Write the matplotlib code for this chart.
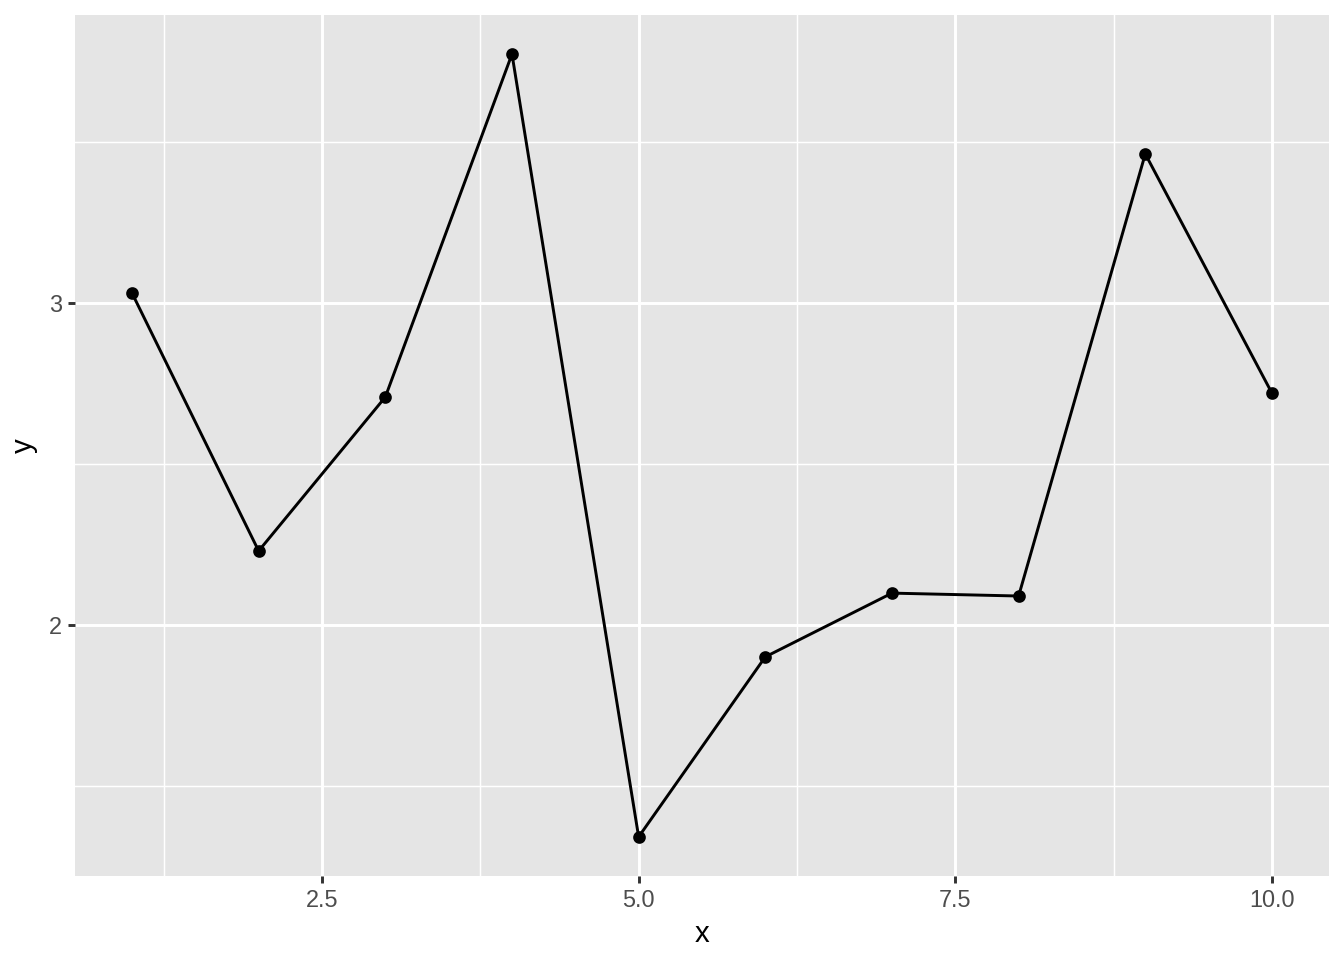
import matplotlib
matplotlib.use("Agg")
import matplotlib.pyplot as plt
from matplotlib.ticker import FixedLocator

plt.rcParams["font.family"] = ["Liberation Sans", "DejaVu Sans"]

x = [1, 2, 3, 4, 5, 6, 7, 8, 9, 10]
y = [3.031, 2.230, 2.708, 3.773, 1.342, 1.901, 2.099, 2.090, 3.463, 2.720]

x_major = [2.5, 5.0, 7.5, 10.0]
x_minor = [1.25, 3.75, 6.25, 8.75]
y_major = [2, 3]
y_minor = [1.5, 2.5, 3.5]

fig = plt.figure(figsize=(7, 5), dpi=192)
ax = fig.add_axes([0.0558, 0.0875, 0.9330, 0.8969])
ax.set_facecolor("#E5E5E5")

ax.plot(x, y, color="black", linewidth=1.1, zorder=3)
ax.scatter(x, y, color="black", s=14, zorder=4)

pad_x = (max(x) - min(x)) * 0.05
pad_y = (max(y) - min(y)) * 0.05
ax.set_xlim(min(x) - pad_x, max(x) + pad_x)
ax.set_ylim(min(y) - pad_y, max(y) + pad_y)

ax.xaxis.set_major_locator(FixedLocator(x_major))
ax.xaxis.set_minor_locator(FixedLocator(x_minor))
ax.yaxis.set_major_locator(FixedLocator(y_major))
ax.yaxis.set_minor_locator(FixedLocator(y_minor))
ax.set_xticklabels(["2.5", "5.0", "7.5", "10.0"])
ax.set_yticklabels(["2", "3"])

ax.grid(which="major", color="white", linewidth=1.1)
ax.grid(which="minor", color="white", linewidth=0.55)
ax.set_axisbelow(True)

for s in ax.spines.values():
    s.set_visible(False)

ax.tick_params(which="major", length=2.75, width=1.1, color="#333333",
               labelcolor="#4D4D4D", labelsize=8.8, pad=2.2)
ax.tick_params(which="minor", length=0)

ax.set_xlabel("x", fontsize=11, labelpad=3)
ax.set_ylabel("y", fontsize=11, labelpad=4)

fig.savefig("out.png", dpi=192)
